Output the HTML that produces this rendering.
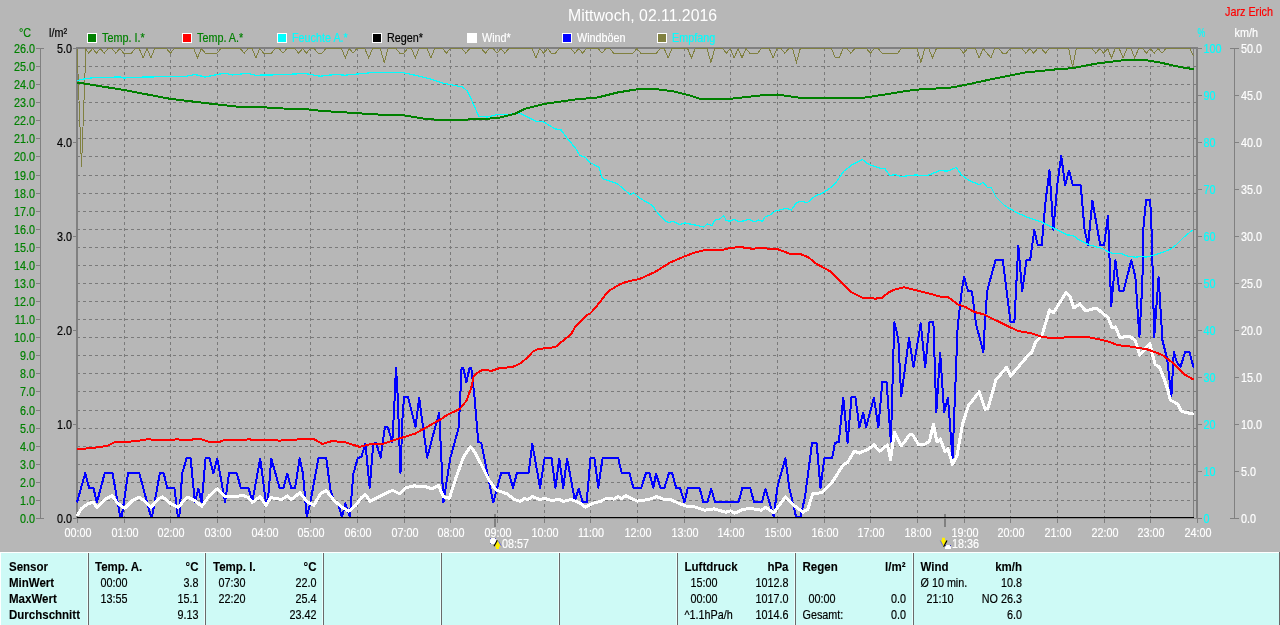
<!DOCTYPE html>
<html lang="de"><head><meta charset="utf-8"><title>Mittwoch, 02.11.2016</title>
<style>html,body{margin:0;padding:0;background:#b7b7b7;overflow:hidden}svg{display:block;will-change:transform}text{font-family:"Liberation Sans",sans-serif;font-size:12px;transform-box:fill-box;transform-origin:0% 50%;transform:scaleX(.9)}.b{font-weight:bold;transform:scaleX(.96)}.e{text-anchor:end;transform-origin:100% 50%}.m{text-anchor:middle;transform-origin:50% 50%}.t{font-size:16px;transform:none}text{stroke-width:.18px}.g{fill:#008000;stroke:#008000}.c{fill:#00ffff;stroke:#00ffff}.w{fill:#fff;stroke:#fff}.k{fill:#000;stroke:#000}.r{fill:#f00;stroke:#f00}.b{stroke-width:.1px}.t{stroke:none}</style></head><body>
<svg width="1280" height="625" viewBox="0 0 1280 625">
<rect x="0" y="0" width="1280" height="625" fill="#b7b7b7"/>
<text x="642.5" y="21" class="m w t" textLength="149" lengthAdjust="spacingAndGlyphs">Mittwoch, 02.11.2016</text>
<text x="1273" y="16" class="e r">Jarz Erich</text>
<text x="19" y="37" class="g">°C</text>
<text x="49" y="37" class="k">l/m²</text>
<text x="1197.5" y="37" class="c" textLength="8.6" lengthAdjust="spacingAndGlyphs">%</text>
<text x="1234.5" y="37" class="w">km/h</text>
<rect x="87" y="33" width="10" height="10" fill="#ffffff" shape-rendering="crispEdges"/>
<rect x="88" y="34" width="8" height="8" fill="#008000" shape-rendering="crispEdges"/>
<text x="102" y="42" class="g">Temp. I.*</text>
<rect x="182" y="33" width="10" height="10" fill="#ffffff" shape-rendering="crispEdges"/>
<rect x="183" y="34" width="8" height="8" fill="#ff0000" shape-rendering="crispEdges"/>
<text x="197" y="42" class="g">Temp. A.*</text>
<rect x="277" y="33" width="10" height="10" fill="#ffffff" shape-rendering="crispEdges"/>
<rect x="278" y="34" width="8" height="8" fill="#00ffff" shape-rendering="crispEdges"/>
<text x="292" y="42" class="c">Feuchte A.*</text>
<rect x="372" y="33" width="10" height="10" fill="#ffffff" shape-rendering="crispEdges"/>
<rect x="373" y="34" width="8" height="8" fill="#000000" shape-rendering="crispEdges"/>
<text x="387" y="42" class="k">Regen*</text>
<rect x="467" y="33" width="10" height="10" fill="#ffffff" shape-rendering="crispEdges"/>
<rect x="468" y="34" width="8" height="8" fill="#ffffff" shape-rendering="crispEdges"/>
<text x="482" y="42" class="w">Wind*</text>
<rect x="562" y="33" width="10" height="10" fill="#ffffff" shape-rendering="crispEdges"/>
<rect x="563" y="34" width="8" height="8" fill="#0000ff" shape-rendering="crispEdges"/>
<text x="577" y="42" class="w">Windböen</text>
<rect x="657" y="33" width="10" height="10" fill="#ffffff" shape-rendering="crispEdges"/>
<rect x="658" y="34" width="8" height="8" fill="#808040" shape-rendering="crispEdges"/>
<text x="672" y="42" class="c">Empfang</text>
<g shape-rendering="crispEdges" stroke="#7a7a7a" stroke-width="1" stroke-dasharray="3 3" fill="none"><path d="M77 500.5H1196"/><path d="M77 482.5H1196"/><path d="M77 464.5H1196"/><path d="M77 446.5H1196"/><path d="M77 428.5H1196"/><path d="M77 410.5H1196"/><path d="M77 391.5H1196"/><path d="M77 373.5H1196"/><path d="M77 355.5H1196"/><path d="M77 337.5H1196"/><path d="M77 319.5H1196"/><path d="M77 301.5H1196"/><path d="M77 283.5H1196"/><path d="M77 265.5H1196"/><path d="M77 247.5H1196"/><path d="M77 229.5H1196"/><path d="M77 211.5H1196"/><path d="M77 193.5H1196"/><path d="M77 175.5H1196"/><path d="M77 156.5H1196"/><path d="M77 138.5H1196"/><path d="M77 120.5H1196"/><path d="M77 102.5H1196"/><path d="M77 84.5H1196"/><path d="M77 66.5H1196"/><path d="M124.5 48V518"/><path d="M170.5 48V518"/><path d="M217.5 48V518"/><path d="M264.5 48V518"/><path d="M310.5 48V518"/><path d="M357.5 48V518"/><path d="M404.5 48V518"/><path d="M450.5 48V518"/><path d="M497.5 48V518"/><path d="M544.5 48V518"/><path d="M590.5 48V518"/><path d="M637.5 48V518"/><path d="M684.5 48V518"/><path d="M730.5 48V518"/><path d="M777.5 48V518"/><path d="M824.5 48V518"/><path d="M870.5 48V518"/><path d="M917.5 48V518"/><path d="M964.5 48V518"/><path d="M1010.5 48V518"/><path d="M1057.5 48V518"/><path d="M1104.5 48V518"/><path d="M1150.5 48V518"/></g>
<g shape-rendering="crispEdges" fill="#808080"><rect x="76" y="47" width="2" height="472"/><rect x="76" y="47" width="1122" height="2"/><rect x="76" y="518" width="1122" height="1" fill="#8e8e8e"/><rect x="1193" y="47" width="1" height="471"/><rect x="1196" y="47" width="2" height="471"/><rect x="40" y="48" width="1" height="471"/><rect x="36" y="518" width="8" height="1"/><rect x="36" y="500" width="4" height="1"/><rect x="36" y="482" width="4" height="1"/><rect x="36" y="464" width="4" height="1"/><rect x="36" y="446" width="4" height="1"/><rect x="36" y="428" width="4" height="1"/><rect x="36" y="410" width="4" height="1"/><rect x="36" y="391" width="4" height="1"/><rect x="36" y="373" width="4" height="1"/><rect x="36" y="355" width="4" height="1"/><rect x="36" y="337" width="4" height="1"/><rect x="36" y="319" width="4" height="1"/><rect x="36" y="301" width="4" height="1"/><rect x="36" y="283" width="4" height="1"/><rect x="36" y="265" width="4" height="1"/><rect x="36" y="247" width="4" height="1"/><rect x="36" y="229" width="4" height="1"/><rect x="36" y="211" width="4" height="1"/><rect x="36" y="193" width="4" height="1"/><rect x="36" y="175" width="4" height="1"/><rect x="36" y="156" width="4" height="1"/><rect x="36" y="138" width="4" height="1"/><rect x="36" y="120" width="4" height="1"/><rect x="36" y="102" width="4" height="1"/><rect x="36" y="84" width="4" height="1"/><rect x="36" y="66" width="4" height="1"/><rect x="36" y="48" width="8" height="1"/><rect x="73" y="518" width="3" height="1"/><rect x="73" y="424" width="3" height="1"/><rect x="73" y="330" width="3" height="1"/><rect x="73" y="236" width="3" height="1"/><rect x="73" y="142" width="3" height="1"/><rect x="73" y="48" width="3" height="1"/><rect x="1198" y="518" width="4" height="1"/><rect x="1198" y="471" width="4" height="1"/><rect x="1198" y="424" width="4" height="1"/><rect x="1198" y="377" width="4" height="1"/><rect x="1198" y="330" width="4" height="1"/><rect x="1198" y="283" width="4" height="1"/><rect x="1198" y="236" width="4" height="1"/><rect x="1198" y="189" width="4" height="1"/><rect x="1198" y="142" width="4" height="1"/><rect x="1198" y="95" width="4" height="1"/><rect x="1198" y="48" width="4" height="1"/><rect x="1234" y="48" width="1" height="471"/><rect x="1230" y="518" width="9" height="1"/><rect x="1234" y="471" width="5" height="1"/><rect x="1234" y="424" width="5" height="1"/><rect x="1234" y="377" width="5" height="1"/><rect x="1234" y="330" width="5" height="1"/><rect x="1234" y="283" width="5" height="1"/><rect x="1234" y="236" width="5" height="1"/><rect x="1234" y="189" width="5" height="1"/><rect x="1234" y="142" width="5" height="1"/><rect x="1234" y="95" width="5" height="1"/><rect x="1230" y="48" width="9" height="1"/><rect x="77" y="518" width="1" height="5"/><rect x="124" y="518" width="1" height="5"/><rect x="170" y="518" width="1" height="5"/><rect x="217" y="518" width="1" height="5"/><rect x="264" y="518" width="1" height="5"/><rect x="310" y="518" width="1" height="5"/><rect x="357" y="518" width="1" height="5"/><rect x="404" y="518" width="1" height="5"/><rect x="450" y="518" width="1" height="5"/><rect x="497" y="518" width="1" height="5"/><rect x="544" y="518" width="1" height="5"/><rect x="590" y="518" width="1" height="5"/><rect x="637" y="518" width="1" height="5"/><rect x="684" y="518" width="1" height="5"/><rect x="730" y="518" width="1" height="5"/><rect x="777" y="518" width="1" height="5"/><rect x="824" y="518" width="1" height="5"/><rect x="870" y="518" width="1" height="5"/><rect x="917" y="518" width="1" height="5"/><rect x="964" y="518" width="1" height="5"/><rect x="1010" y="518" width="1" height="5"/><rect x="1057" y="518" width="1" height="5"/><rect x="1104" y="518" width="1" height="5"/><rect x="1150" y="518" width="1" height="5"/><rect x="1197" y="518" width="1" height="5"/><rect x="494" y="514" width="2" height="13"/><rect x="944" y="514" width="2" height="13"/></g>
<g shape-rendering="crispEdges">
<polyline points="77.5,48.5 77.5,60.0 81.5,167.0 85.5,60.0 85.5,48.5 88.7,53.2 92.6,48.5 96.4,53.2 100.3,48.5 104.2,53.2 108.1,48.5 112.0,48.5 115.9,53.2 119.8,48.5 123.7,53.2 131.4,53.2 135.3,48.5 139.2,48.5 143.1,57.9 147.0,48.5 150.9,57.9 154.8,48.5 166.4,48.5 170.3,53.2 174.2,48.5 193.7,48.5 197.6,57.9 201.4,48.5 205.3,53.2 217.0,53.2 220.9,48.5 240.3,48.5 244.2,53.2 248.1,48.5 252.0,48.5 255.9,57.9 259.8,48.5 263.7,53.2 271.4,53.2 275.3,48.5 279.2,48.5 283.1,53.2 287.0,48.5 294.8,48.5 298.7,53.2 302.6,48.5 306.4,53.2 310.3,48.5 314.2,48.5 318.1,53.2 322.0,53.2 325.9,48.5 341.4,48.5 345.3,57.9 349.2,48.5 353.1,53.2 357.0,48.5 364.8,48.5 368.7,57.9 372.6,48.5 380.3,48.5 384.2,62.6 388.1,48.5 395.9,48.5 399.8,53.2 403.7,53.2 407.6,48.5 411.4,48.5 415.3,57.9 419.2,48.5 427.0,48.5 430.9,57.9 434.8,48.5 442.6,48.5 446.4,53.2 450.3,48.5 462.0,48.5 465.9,53.2 469.8,48.5 481.4,48.5 485.3,53.2 489.2,48.5 493.1,48.5 497.0,53.2 500.9,48.5 504.8,53.2 508.7,48.5 532.0,48.5 535.9,57.9 539.8,48.5 543.7,53.2 547.6,48.5 551.4,53.2 555.3,53.2 559.2,48.5 570.9,48.5 574.8,53.2 578.7,48.5 582.6,53.2 586.4,48.5 598.1,48.5 602.0,53.2 605.9,48.5 609.8,48.5 613.7,53.2 633.1,53.2 637.0,48.5 640.9,53.2 656.4,53.2 660.3,48.5 664.2,48.5 668.1,57.9 672.0,48.5 687.6,48.5 691.4,57.9 695.3,48.5 707.0,48.5 710.9,62.6 714.8,48.5 722.6,48.5 726.4,53.2 730.3,48.5 734.2,57.9 738.1,48.5 742.0,57.9 745.9,48.5 749.8,53.2 757.6,53.2 761.4,48.5 769.2,48.5 773.1,57.9 777.0,48.5 780.9,48.5 784.8,53.2 788.7,48.5 792.6,48.5 796.4,62.6 800.3,48.5 831.4,48.5 835.3,57.9 839.2,57.9 843.1,48.5 847.0,48.5 850.9,53.2 854.8,48.5 866.4,48.5 870.3,53.2 874.2,48.5 878.1,48.5 882.0,53.2 897.6,53.2 901.4,48.5 917.0,48.5 920.9,62.6 924.8,48.5 928.7,48.5 932.6,57.9 936.4,48.5 959.8,48.5 963.7,53.2 967.6,48.5 975.3,48.5 979.2,57.9 983.1,48.5 987.0,53.2 990.9,57.9 994.8,48.5 998.7,48.5 1002.6,53.2 1006.4,53.2 1010.3,48.5 1022.0,48.5 1025.9,53.2 1029.8,48.5 1033.7,53.2 1037.6,48.5 1041.4,48.5 1045.3,53.2 1049.2,48.5 1068.7,48.5 1072.6,67.3 1076.4,48.5 1092.0,48.5 1095.9,53.2 1099.8,48.5 1103.7,53.2 1107.6,48.5 1111.4,57.9 1115.3,48.5 1119.2,48.5 1123.1,57.9 1127.0,48.5 1130.9,48.5 1134.8,57.9 1138.7,48.5 1142.6,48.5 1146.4,53.2 1150.3,48.5 1154.2,53.2 1158.1,48.5 1162.0,53.2 1165.9,48.5 1190.0,48.5 1193.5,56.0" fill="none" stroke="#808040" stroke-width="1" stroke-linecap="butt" stroke-linejoin="miter"/>
<polyline points="77.0,502.4 85.2,473.2 89.1,487.8 93.4,487.8 96.9,502.4 104.7,473.2 112.5,473.2 120.3,517.0 121.7,517.0 128.1,473.2 139.3,473.2 151.0,517.0 152.0,517.0 159.8,473.2 163.7,473.2 167.2,487.8 174.4,487.8 177.9,517.0 179.3,517.0 182.2,473.2 186.7,458.0 190.6,458.0 194.9,502.4 198.4,488.8 201.7,502.4 205.6,458.0 209.5,458.0 213.4,473.2 217.3,458.5 225.1,502.4 229.0,473.2 236.8,473.2 240.7,487.8 248.5,487.8 252.4,501.5 260.2,458.5 265.9,502.4 267.8,502.4 271.3,458.5 279.5,487.8 283.4,487.8 287.3,473.8 291.2,487.8 295.1,487.8 299.6,458.5 302.9,473.2 306.8,517.0 310.3,502.4 318.5,458.0 326.3,458.0 330.2,488.8 334.1,501.5 338.0,503.4 342.0,517.0 345.3,503.4 349.8,517.0 353.3,474.1 357.6,458.5 361.5,456.6 365.4,443.9 369.7,487.8 373.2,443.9 376.1,442.9 380.6,457.6 384.9,427.3 387.8,427.3 392.3,442.0 394.4,404.0 396.0,367.5 397.6,394.4 400.5,473.2 402.4,420.0 404.0,396.8 408.0,396.8 415.5,427.0 419.2,397.6 420.8,410.4 427.2,457.6 432.8,436.0 439.2,412.8 443.4,502.4 450.2,458.5 458.8,427.3 461.6,367.5 463.2,367.5 466.4,382.4 469.6,367.5 471.2,367.5 474.4,396.0 478.3,442.0 481.2,442.9 493.3,502.4 501.1,473.2 508.9,473.2 513.0,487.8 516.9,473.2 528.6,473.2 532.3,443.9 540.1,487.8 544.6,458.0 551.5,458.0 555.4,487.8 559.3,458.5 563.2,487.8 567.1,458.5 574.9,500.5 578.8,488.8 582.7,502.4 586.6,502.4 590.5,458.0 594.4,458.0 598.3,487.8 602.6,458.0 618.2,458.0 621.7,473.2 629.5,473.2 633.4,487.8 641.2,487.8 645.9,473.2 649.4,473.2 653.3,487.8 656.0,473.8 660.5,487.8 664.4,487.8 668.9,473.2 672.2,473.2 676.1,487.8 680.0,487.8 684.5,502.4 687.8,487.8 699.5,487.8 703.4,502.4 707.3,502.4 711.2,488.8 715.1,502.4 738.5,502.4 742.4,487.8 750.2,487.8 754.1,502.4 761.9,502.4 765.5,488.8 773.7,517.0 777.6,485.9 785.4,458.5 789.3,487.8 796.1,517.0 800.4,517.0 804.9,497.6 812.1,442.9 816.6,442.9 820.5,487.8 824.4,458.0 832.2,458.0 834.9,442.9 838.8,442.0 843.3,397.6 847.6,442.9 851.5,397.0 855.4,397.0 859.3,427.3 863.2,412.7 866.1,427.3 873.9,397.6 878.4,427.3 882.3,382.0 886.6,382.0 890.9,442.0 893.4,352.7 894.4,322.4 898.3,339.0 901.2,396.6 909.0,338.0 913.5,367.3 920.7,323.4 925.2,367.3 929.5,322.4 933.4,322.4 936.3,412.2 940.2,352.7 944.1,412.2 948.0,397.6 952.5,458.5 954.9,397.6 957.6,327.2 961.6,292.0 964.0,276.5 968.0,291.0 972.0,291.5 976.0,324.0 983.4,352.2 984.8,324.0 987.2,291.0 995.5,260.0 1002.7,260.0 1010.5,321.7 1014.4,321.7 1018.3,245.6 1022.2,291.5 1026.5,260.2 1030.2,259.8 1034.3,230.0 1037.8,245.2 1041.7,245.2 1045.6,200.7 1049.5,170.5 1053.4,230.0 1057.3,185.1 1061.2,155.5 1065.1,185.1 1069.0,170.5 1072.9,185.1 1080.7,185.1 1084.6,230.0 1088.1,245.2 1092.4,200.7 1100.2,245.2 1104.1,245.2 1108.0,215.4 1111.2,306.0 1115.4,260.4 1119.3,290.8 1123.6,290.8 1131.3,260.4 1135.4,277.0 1139.4,337.0 1142.4,282.7 1143.2,230.0 1146.1,199.8 1150.2,199.8 1151.8,235.7 1154.2,337.0 1158.6,277.0 1162.4,340.0 1167.2,359.2 1171.4,396.4 1173.8,352.0 1176.8,362.2 1180.4,367.0 1185.2,352.0 1189.4,352.0 1193.6,367.6" fill="none" stroke="#0000ff" stroke-width="2" stroke-linejoin="round" stroke-linecap="butt" />
<polyline points="77.0,516.0 81.7,508.3 88.5,503.4 93.4,502.4 96.9,507.3 104.7,499.5 112.0,495.6 117.8,503.4 124.6,508.3 132.4,500.5 139.3,497.0 145.1,501.5 151.0,507.3 158.8,498.5 162.7,497.0 170.5,503.4 178.3,507.3 187.1,497.0 194.9,500.5 201.7,506.3 209.5,495.6 217.3,488.8 225.1,496.6 235.9,496.6 242.7,495.2 248.5,497.6 252.4,502.4 260.2,496.6 265.9,505.4 270.7,497.6 281.5,499.5 287.3,496.0 291.2,499.5 300.0,492.7 306.8,501.5 313.7,505.4 320.5,493.7 326.3,490.7 334.1,500.5 342.0,507.3 348.8,511.2 355.6,505.4 361.5,497.6 365.4,494.6 370.2,501.5 377.1,497.6 384.9,493.7 392.7,490.3 399.5,493.7 405.4,487.8 414.1,485.9 425.9,486.8 431.7,488.8 438.5,485.5 443.4,496.6 449.3,498.5 455.9,478.0 463.7,456.6 470.5,446.8 474.4,451.7 481.2,464.4 489.0,480.0 495.9,489.8 506.6,493.7 514.4,499.5 520.2,501.5 524.1,498.5 528.0,499.5 532.3,496.6 539.8,499.5 544.6,498.5 551.5,500.5 559.3,499.5 563.2,501.5 571.0,499.5 578.8,502.4 585.6,507.3 592.4,503.4 600.2,501.5 606.1,498.5 613.9,499.1 618.2,496.6 621.7,498.5 625.6,495.6 637.3,501.1 648.8,499.5 656.6,496.6 663.4,499.1 671.2,499.9 679.0,503.4 686.8,506.3 694.6,506.9 704.4,510.2 714.1,508.9 725.9,512.2 730.7,510.8 734.6,513.2 742.4,509.7 750.2,508.3 761.0,510.2 765.9,507.3 773.7,512.8 785.4,497.0 794.1,505.4 802.9,512.2 807.8,509.3 812.7,493.7 821.5,492.7 832.2,482.0 839.8,470.2 843.7,464.4 847.6,462.4 854.4,451.1 859.3,453.1 869.0,448.8 873.9,444.9 879.8,451.1 887.6,444.9 890.5,459.5 894.4,432.2 901.2,445.9 905.1,441.0 910.0,434.1 912.9,435.1 918.8,444.9 925.6,443.9 929.5,441.0 933.4,424.4 936.9,442.0 940.2,439.0 945.1,451.7 948.0,448.8 952.5,464.4 956.8,456.6 962.7,423.4 968.5,405.6 979.3,391.7 985.1,409.3 988.0,408.3 995.9,380.0 1006.6,367.3 1010.5,376.1 1027.1,356.6 1032.0,352.0 1035.9,341.2 1041.7,336.3 1049.5,310.0 1053.4,312.9 1066.1,292.4 1070.0,296.3 1073.9,308.0 1079.8,303.8 1085.6,311.0 1096.3,308.0 1108.0,317.5 1112.0,327.3 1115.5,327.0 1119.8,337.4 1130.0,336.3 1135.4,341.0 1139.6,355.0 1149.8,343.8 1152.8,355.6 1155.2,364.6 1159.4,367.0 1164.8,380.8 1167.2,388.0 1170.2,400.0 1178.0,404.2 1181.6,411.4 1193.6,414.2" fill="none" stroke="#ffffff" stroke-width="3" stroke-linejoin="round" stroke-linecap="butt" />
<polyline points="77.5,80.5 85.0,78.8 95.0,77.5 120.0,77.0 124.0,78.0 145.0,77.0 185.0,76.5 195.0,74.5 205.0,77.0 220.0,74.0 225.0,73.2 232.5,75.0 247.5,73.2 255.0,75.2 270.0,75.0 295.0,74.0 305.0,73.5 320.0,76.2 335.0,74.5 345.0,75.2 370.0,72.8 390.0,72.5 402.5,72.5 417.5,75.8 430.0,78.8 442.5,83.0 462.5,87.0 467.5,91.2 473.8,105.0 478.8,116.2 487.5,117.0 497.5,114.5 507.5,114.5 520.0,113.2 530.0,118.2 536.2,121.2 542.5,121.2 555.0,128.8 561.2,130.0 567.5,138.8 575.0,147.5 580.0,155.5 585.0,157.0 590.0,162.5 598.8,167.0 602.5,178.8 612.5,182.0 617.5,183.8 630.0,194.5 633.8,193.0 638.8,197.5 652.5,205.5 656.2,211.2 665.0,220.8 668.8,222.5 672.5,221.2 680.0,224.5 685.0,223.0 697.5,225.5 703.8,227.0 707.5,223.8 712.0,225.8 715.0,220.0 720.0,218.8 723.8,215.5 726.2,220.5 730.0,221.2 733.8,219.5 740.0,221.8 748.8,219.5 755.0,222.0 758.8,220.0 762.5,221.2 765.0,217.0 770.0,215.0 775.0,211.2 786.2,208.2 791.2,210.0 796.2,203.2 800.0,201.2 807.5,202.5 815.0,196.2 823.8,192.5 832.5,186.2 835.0,183.8 843.8,171.2 852.5,164.5 862.5,159.5 867.5,163.8 880.0,168.2 885.0,168.8 890.0,175.8 895.0,174.5 901.2,176.5 915.0,175.0 927.5,175.5 940.0,170.5 947.5,171.2 956.2,167.5 961.2,174.5 968.5,180.2 979.3,184.7 983.2,182.2 987.1,187.1 991.4,187.7 995.9,196.8 1004.6,205.6 1018.3,213.4 1030.0,218.3 1041.7,222.2 1055.4,229.0 1067.1,234.9 1072.9,235.3 1078.8,239.8 1088.5,244.6 1102.2,248.5 1109.6,252.6 1116.3,253.9 1120.2,253.3 1128.8,256.4 1135.5,257.2 1141.3,256.4 1146.1,257.2 1156.6,254.5 1163.4,252.0 1170.1,249.5 1176.8,244.3 1184.5,236.6 1192.7,229.9" fill="none" stroke="#00ffff" stroke-width="1.25" stroke-linejoin="round" stroke-linecap="butt" />
<polyline points="77.0,448.8 89.5,448.4 107.0,445.9 114.9,442.0 134.4,441.4 149.0,439.0 152.9,440.0 173.4,440.0 176.9,439.0 181.2,440.0 191.0,439.6 200.7,439.0 208.5,441.6 220.2,441.6 224.1,440.0 245.6,440.0 248.5,439.0 252.4,440.0 270.0,440.0 279.5,440.6 304.9,439.0 313.7,439.0 322.4,443.9 332.2,441.0 345.9,442.5 359.5,446.8 369.3,444.5 382.9,443.9 394.4,440.0 415.2,433.6 428.0,426.4 440.8,419.2 447.2,414.9 460.0,408.8 466.4,400.8 471.2,388.0 473.6,376.8 476.0,373.6 482.4,370.0 492.0,370.7 498.4,368.5 512.8,366.9 520.0,363.6 528.0,357.2 532.8,351.6 537.6,349.2 555.2,347.1 566.4,338.0 571.2,334.0 575.2,326.8 586.4,315.6 590.4,313.2 596.0,307.1 604.8,295.6 610.4,290.0 619.2,284.7 625.6,282.0 640.0,278.8 655.0,272.0 670.0,262.5 685.0,256.2 695.0,252.5 705.0,250.0 722.5,250.0 730.0,248.0 740.0,247.0 752.5,248.8 760.0,248.0 777.5,249.2 790.0,253.8 800.0,253.8 808.8,257.5 815.0,263.0 830.0,271.2 840.0,280.8 851.2,292.0 862.4,297.6 872.0,298.1 875.2,298.7 882.4,297.6 888.0,292.8 894.4,289.6 904.0,287.2 916.8,290.4 929.6,293.6 940.8,296.8 948.0,297.1 958.4,304.8 964.8,306.7 974.4,312.0 984.0,314.4 1002.7,323.7 1018.3,331.1 1032.0,333.4 1043.7,337.3 1059.3,338.3 1069.0,336.7 1086.6,336.9 1100.0,339.5 1107.2,341.2 1118.0,345.2 1131.2,346.6 1148.0,349.6 1162.4,355.0 1174.4,364.0 1185.2,374.8 1193.6,379.6" fill="none" stroke="#ff0000" stroke-width="2" stroke-linejoin="round" stroke-linecap="butt" />
<polyline points="77.5,82.5 124.0,90.0 170.0,98.8 190.0,101.2 217.5,104.5 240.0,107.0 265.0,107.0 270.0,108.2 305.0,109.0 320.0,110.8 357.5,113.2 377.5,114.5 390.0,114.5 405.0,115.5 425.0,118.8 440.0,120.0 455.0,120.0 487.5,118.8 500.0,117.5 515.0,113.8 525.0,108.8 545.0,103.8 575.0,99.5 597.5,97.5 617.5,92.5 637.5,89.2 655.0,89.0 672.5,91.2 690.0,95.5 700.0,98.8 730.0,98.8 760.0,95.5 777.5,94.5 797.5,97.5 815.0,97.5 840.0,97.5 865.0,97.5 885.0,94.5 907.5,90.8 925.0,88.8 947.5,88.2 965.0,85.0 990.0,79.5 1010.0,75.5 1025.0,72.5 1057.5,69.2 1072.5,68.2 1095.0,63.8 1115.0,61.2 1130.0,59.5 1142.5,59.5 1160.0,62.5 1180.0,67.0 1193.8,69.2" fill="none" stroke="#008000" stroke-width="2" stroke-linejoin="round" stroke-linecap="butt" />
</g>
<rect x="77" y="517" width="1117" height="1" fill="#000" shape-rendering="crispEdges"/>
<text x="35" y="523" class="e g">0.0</text>
<text x="35" y="505" class="e g">1.0</text>
<text x="35" y="487" class="e g">2.0</text>
<text x="35" y="469" class="e g">3.0</text>
<text x="35" y="451" class="e g">4.0</text>
<text x="35" y="433" class="e g">5.0</text>
<text x="35" y="415" class="e g">6.0</text>
<text x="35" y="396" class="e g">7.0</text>
<text x="35" y="378" class="e g">8.0</text>
<text x="35" y="360" class="e g">9.0</text>
<text x="35" y="342" class="e g">10.0</text>
<text x="35" y="324" class="e g">11.0</text>
<text x="35" y="306" class="e g">12.0</text>
<text x="35" y="288" class="e g">13.0</text>
<text x="35" y="270" class="e g">14.0</text>
<text x="35" y="252" class="e g">15.0</text>
<text x="35" y="234" class="e g">16.0</text>
<text x="35" y="216" class="e g">17.0</text>
<text x="35" y="198" class="e g">18.0</text>
<text x="35" y="180" class="e g">19.0</text>
<text x="35" y="161" class="e g">20.0</text>
<text x="35" y="143" class="e g">21.0</text>
<text x="35" y="125" class="e g">22.0</text>
<text x="35" y="107" class="e g">23.0</text>
<text x="35" y="89" class="e g">24.0</text>
<text x="35" y="71" class="e g">25.0</text>
<text x="35" y="53" class="e g">26.0</text>
<text x="72" y="523" class="e k">0.0</text>
<text x="72" y="429" class="e k">1.0</text>
<text x="72" y="335" class="e k">2.0</text>
<text x="72" y="241" class="e k">3.0</text>
<text x="72" y="147" class="e k">4.0</text>
<text x="72" y="53" class="e k">5.0</text>
<text x="1203.5" y="523" class="c">0</text>
<text x="1241" y="523" class="w">0.0</text>
<text x="1203.5" y="476" class="c">10</text>
<text x="1241" y="476" class="w">5.0</text>
<text x="1203.5" y="429" class="c">20</text>
<text x="1241" y="429" class="w">10.0</text>
<text x="1203.5" y="382" class="c">30</text>
<text x="1241" y="382" class="w">15.0</text>
<text x="1203.5" y="335" class="c">40</text>
<text x="1241" y="335" class="w">20.0</text>
<text x="1203.5" y="288" class="c">50</text>
<text x="1241" y="288" class="w">25.0</text>
<text x="1203.5" y="241" class="c">60</text>
<text x="1241" y="241" class="w">30.0</text>
<text x="1203.5" y="194" class="c">70</text>
<text x="1241" y="194" class="w">35.0</text>
<text x="1203.5" y="147" class="c">80</text>
<text x="1241" y="147" class="w">40.0</text>
<text x="1203.5" y="100" class="c">90</text>
<text x="1241" y="100" class="w">45.0</text>
<text x="1203.5" y="53" class="c">100</text>
<text x="1241" y="53" class="w">50.0</text>
<text x="78" y="537" class="m w">00:00</text>
<text x="125" y="537" class="m w">01:00</text>
<text x="171" y="537" class="m w">02:00</text>
<text x="218" y="537" class="m w">03:00</text>
<text x="265" y="537" class="m w">04:00</text>
<text x="311" y="537" class="m w">05:00</text>
<text x="358" y="537" class="m w">06:00</text>
<text x="405" y="537" class="m w">07:00</text>
<text x="451" y="537" class="m w">08:00</text>
<text x="498" y="537" class="m w">09:00</text>
<text x="545" y="537" class="m w">10:00</text>
<text x="591" y="537" class="m w">11:00</text>
<text x="638" y="537" class="m w">12:00</text>
<text x="685" y="537" class="m w">13:00</text>
<text x="731" y="537" class="m w">14:00</text>
<text x="778" y="537" class="m w">15:00</text>
<text x="825" y="537" class="m w">16:00</text>
<text x="871" y="537" class="m w">17:00</text>
<text x="918" y="537" class="m w">18:00</text>
<text x="965" y="537" class="m w">19:00</text>
<text x="1011" y="537" class="m w">20:00</text>
<text x="1058" y="537" class="m w">21:00</text>
<text x="1105" y="537" class="m w">22:00</text>
<text x="1151" y="537" class="m w">23:00</text>
<text x="1198" y="537" class="m w">24:00</text>
<text x="502" y="548" class="w">08:57</text>
<text x="952" y="548" class="w">18:36</text>
<g><rect x="490" y="538" width="6" height="6" fill="#1c1ca8" shape-rendering="crispEdges"/><path d="M491.2 538h3.6l1.2 1.2v3.6l-1.2 1.2h-3.6l-1.2-1.2v-3.6z" fill="#fff"/><path d="M497.5 540L501 546.5H499V549H496V546.5H494.2Z" fill="#ffee00"/><path d="M497.3 540.2L494 546.3" stroke="#000" stroke-width="1.2" fill="none"/><path d="M498.6 541.2L501.4 546.2" stroke="#6a6ae0" stroke-width="1" fill="none"/></g>
<g><rect x="945" y="545" width="6" height="4" fill="#1c1ca8" shape-rendering="crispEdges"/><path d="M945 549v-2.6l1.4-1.4h3.2l1.4 1.4v2.6z" fill="#fff"/><path d="M942 537.8H945V540.3H947L943.5 547L940.2 540.3H942Z" fill="#ffee00"/><path d="M947 540.5L943.6 546.8" stroke="#000" stroke-width="1.2" fill="none"/><path d="M940.3 540.5L942.8 545.5" stroke="#6a6ae0" stroke-width="1" fill="none"/></g>
<g shape-rendering="crispEdges">
<rect x="0" y="552" width="1280" height="73" fill="#cefaf6"/>
<rect x="0" y="552" width="1280" height="1" fill="#fff"/>
<rect x="0" y="552" width="1" height="73" fill="#fff"/>
<rect x="1279" y="552" width="1" height="73" fill="#6a6a6a"/>
<rect x="87" y="553" width="1" height="72" fill="#e8fffd"/>
<rect x="88" y="553" width="1" height="72" fill="#6a6a6a"/>
<rect x="204" y="553" width="1" height="72" fill="#e8fffd"/>
<rect x="205" y="553" width="1" height="72" fill="#6a6a6a"/>
<rect x="322" y="553" width="1" height="72" fill="#e8fffd"/>
<rect x="323" y="553" width="1" height="72" fill="#6a6a6a"/>
<rect x="440" y="553" width="1" height="72" fill="#e8fffd"/>
<rect x="441" y="553" width="1" height="72" fill="#6a6a6a"/>
<rect x="558" y="553" width="1" height="72" fill="#e8fffd"/>
<rect x="559" y="553" width="1" height="72" fill="#6a6a6a"/>
<rect x="676" y="553" width="1" height="72" fill="#e8fffd"/>
<rect x="677" y="553" width="1" height="72" fill="#6a6a6a"/>
<rect x="794" y="553" width="1" height="72" fill="#e8fffd"/>
<rect x="795" y="553" width="1" height="72" fill="#6a6a6a"/>
<rect x="912" y="553" width="1" height="72" fill="#e8fffd"/>
<rect x="913" y="553" width="1" height="72" fill="#6a6a6a"/>
</g>
<text x="9" y="571" class="k b">Sensor</text>
<text x="9" y="587" class="k b">MinWert</text>
<text x="9" y="603" class="k b">MaxWert</text>
<text x="9" y="619" class="k b">Durchschnitt</text>
<text x="95" y="571" class="k b">Temp. A.</text>
<text x="198.5" y="571" class="k b e">°C</text>
<text x="100.5" y="587" class="k ">00:00</text>
<text x="198.5" y="587" class="k e">3.8</text>
<text x="100.5" y="603" class="k ">13:55</text>
<text x="198.5" y="603" class="k e">15.1</text>
<text x="198.5" y="619" class="k e">9.13</text>
<text x="213" y="571" class="k b">Temp. I.</text>
<text x="316.5" y="571" class="k b e">°C</text>
<text x="218.5" y="587" class="k ">07:30</text>
<text x="316.5" y="587" class="k e">22.0</text>
<text x="218.5" y="603" class="k ">22:20</text>
<text x="316.5" y="603" class="k e">25.4</text>
<text x="316.5" y="619" class="k e">23.42</text>
<text x="684.5" y="571" class="k b">Luftdruck</text>
<text x="788.5" y="571" class="k b e">hPa</text>
<text x="690.5" y="587" class="k ">15:00</text>
<text x="788.5" y="587" class="k e">1012.8</text>
<text x="690.5" y="603" class="k ">00:00</text>
<text x="788.5" y="603" class="k e">1017.0</text>
<text x="684.5" y="619" class="k ">^1.1hPa/h</text>
<text x="788.5" y="619" class="k e">1014.6</text>
<text x="802.5" y="571" class="k b">Regen</text>
<text x="905.5" y="571" class="k b e">l/m²</text>
<text x="808.5" y="603" class="k ">00:00</text>
<text x="906" y="603" class="k e">0.0</text>
<text x="802.5" y="619" class="k ">Gesamt:</text>
<text x="906" y="619" class="k e">0.0</text>
<text x="920.5" y="571" class="k b">Wind</text>
<text x="1022" y="571" class="k b e">km/h</text>
<text x="920.5" y="587" class="k ">Ø 10 min.</text>
<text x="1022" y="587" class="k e">10.8</text>
<text x="926.5" y="603" class="k ">21:10</text>
<text x="1022" y="603" class="k e">NO 26.3</text>
<text x="1022" y="619" class="k e">6.0</text>
</svg></body></html>
